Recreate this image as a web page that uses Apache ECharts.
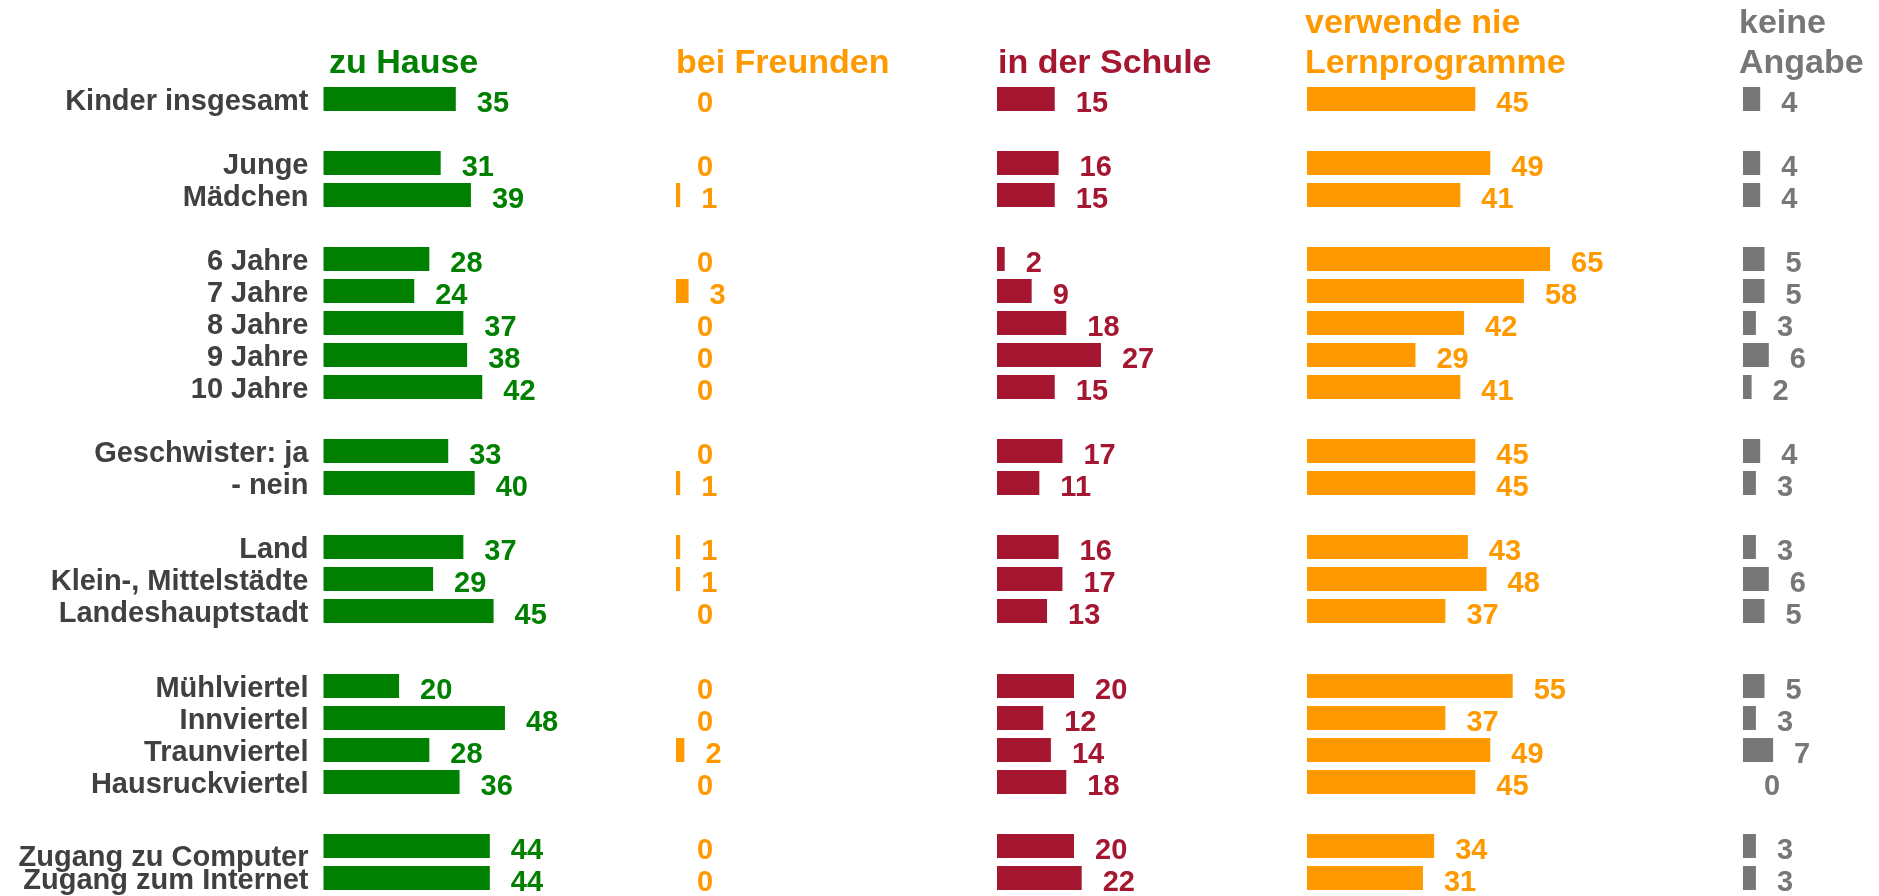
<!DOCTYPE html>
<html>
<head>
<meta charset="utf-8">
<title>Lernprogramme – wo Kinder sie nutzen</title>
<script src="https://cdn.jsdelivr.net/npm/echarts@6/dist/echarts.min.js"></script>
<style>
    html, body { margin: 0; padding: 0; background: #fff; }
    #chart { width: 1879px; height: 896px; }
</style>
</head>
<body>
<div id="chart"></div>
<script>
// Zeilen, leere Einträge = Abstand zwischen den Gruppen
const categories = [
    'Kinder insgesamt', '',
    'Junge', 'Mädchen', '',
    '6 Jahre', '7 Jahre', '8 Jahre', '9 Jahre', '10 Jahre', '',
    'Geschwister: ja', '- nein', '',
    'Land', 'Klein-, Mittelstädte', 'Landeshauptstadt',
    // zweiter Block (etwas größerer Abstand davor)
    'Mühlviertel', 'Innviertel', 'Traunviertel', 'Hausruckviertel', '',
    'Zugang zu Computer', 'Zugang zum Internet'
];
const splitAt = 17;

// Werte in %
const zuHause    = [35, null, 31, 39, null, 28, 24, 37, 38, 42, null, 33, 40, null, 37, 29, 45, 20, 48, 28, 36, null, 44, 44];
const beiFreunden = [0, null, 0, 1, null, 0, 3, 0, 0, 0, null, 0, 1, null, 1, 1, 0, 0, 0, 2, 0, null, 0, 0];
const inDerSchule = [15, null, 16, 15, null, 2, 9, 18, 27, 15, null, 17, 11, null, 16, 17, 13, 20, 12, 14, 18, null, 20, 22];
const nieLernprogramme = [45, null, 49, 41, null, 65, 58, 42, 29, 41, null, 45, 45, null, 43, 48, 37, 55, 37, 49, 45, null, 34, 31];
const keineAngabe = [4, null, 4, 4, null, 5, 5, 3, 6, 2, null, 4, 3, null, 3, 6, 5, 5, 3, 7, 0, null, 3, 3];

const FONT = '"Liberation Sans", Arial, sans-serif';

// Spalten: Position und Maßstab (px pro %-Punkt)
const panels = [
    { title: 'zu Hause', data: zuHause, color: '#008000', left: 323.5, scale: 3.78, max: 80, titleLeft: 329, titleTop: 44 },
    { title: 'bei Freunden', data: beiFreunden, color: '#FF9900', left: 676, scale: 4.2, max: 80, titleLeft: 676, titleTop: 44 },
    { title: 'in der Schule', data: inDerSchule, color: '#A51731', left: 997, scale: 3.85, max: 80, titleLeft: 998, titleTop: 44 },
    { title: 'verwende nie\nLernprogramme', data: nieLernprogramme, color: '#FF9900', left: 1307, scale: 3.74, max: 80, titleLeft: 1305, titleTop: 4 },
    { title: 'keine\nAngabe', data: keineAngabe, color: '#777777', left: 1743, scale: 4.3, max: 25, titleLeft: 1739, titleTop: 4 }
];

// zwei Blöcke: oben 17 Zeilen, unten 7 Zeilen, je 32px
const blocks = [
    { from: 0, to: splitAt, top: 83 },
    { from: splitAt, to: categories.length, top: 670 }
];
const rowH = 32;

const labelFont = {
    fontFamily: FONT,
    fontSize: 29,
    fontWeight: 'bold',
    color: '#404040'
};

let grid = [], xAxis = [], yAxis = [], series = [], title = [];

panels.forEach((p, pi) => {
    title.push({
        text: p.title,
        left: p.titleLeft,
        top: p.titleTop,
        padding: 0,
        textStyle: {
            fontFamily: FONT,
            fontSize: 34,
            fontWeight: 'bold',
            lineHeight: 40,
            color: p.color
        }
    });

    blocks.forEach((b) => {
        let idx = grid.length;
        grid.push({
            left: p.left,
            top: b.top,
            width: p.max * p.scale,
            height: (b.to - b.from) * rowH,
            outerBoundsMode: 'none'
        });
        xAxis.push({
            gridIndex: idx,
            type: 'value',
            min: 0,
            max: p.max,
            show: false
        });
        yAxis.push({
            gridIndex: idx,
            type: 'category',
            inverse: true,
            data: categories.slice(b.from, b.to),
            axisLine: { show: false },
            axisTick: { show: false },
            splitLine: { show: false },
            axisLabel: Object.assign({
                show: pi === 0,
                interval: 0,
                margin: 15,
                verticalAlign: 'top',
                lineHeight: 5,
                // im Original sitzt "Zugang zu Computer" tiefer
                formatter: (v) => v === 'Zugang zu Computer' ? '{low|' + v + '}' : v,
                rich: {
                    low: Object.assign({ lineHeight: 23 }, labelFont)
                }
            }, labelFont)
        });
        series.push({
            type: 'bar',
            name: p.title,
            xAxisIndex: idx,
            yAxisIndex: idx,
            data: p.data.slice(b.from, b.to),
            barWidth: 24,
            itemStyle: { color: p.color },
            label: {
                show: true,
                position: 'right',
                distance: 21,
                offset: [0, 5],
                fontFamily: FONT,
                fontSize: 29,
                fontWeight: 'bold',
                color: p.color
            },
            animation: false
        });
    });
});

let chart = echarts.init(document.getElementById('chart'));
chart.setOption({
    backgroundColor: '#fff',
    animation: false,
    title: title,
    grid: grid,
    xAxis: xAxis,
    yAxis: yAxis,
    series: series
});
</script>
</body>
</html>
